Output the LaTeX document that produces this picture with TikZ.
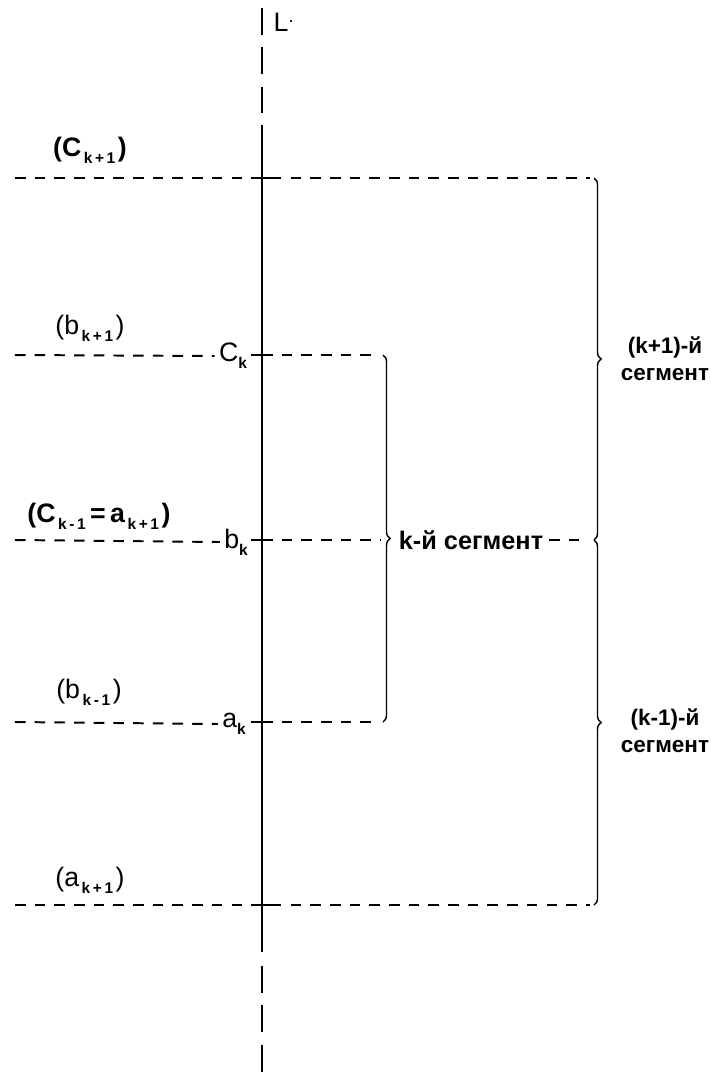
\documentclass[tikz,border=0pt]{standalone}
\usepackage{fontspec}
\setmainfont{Liberation Sans}
\usetikzlibrary{decorations.pathreplacing}

\newcommand{\lowidx}[1]{\raisebox{-0.5ex}{\fontsize{11}{12}\selectfont\bfseries #1}}

\begin{document}
\begin{tikzpicture}[x=0.025cm, y=-0.025cm,
  level/.style={line width=1.4pt, dash pattern=on 7.5pt off 6.5pt},
  axisdash/.style={line width=1.7pt, dash pattern=on 19pt off 9pt},
  seg/.style={decorate, decoration={brace, amplitude=5pt}, line width=1pt},
  lbl/.style={font=\fontsize{19}{21}\selectfont, inner sep=1pt},
  boldlbl/.style={font=\bfseries\fontsize{19}{21}\selectfont, inner sep=1pt},
  segtext/.style={font=\bfseries\fontsize{16}{19}\selectfont, align=center, inner sep=1pt}]

  \useasboundingbox (0,0) rectangle (711,1074);

  % Axis L'
  \coordinate (top) at (262,8);
  \coordinate (topS) at (262,125);
  \coordinate (botS) at (262,952);
  \coordinate (bot) at (262,1074);
  \draw[axisdash] (top) -- ([yshift=5pt]topS);
  \draw[line width=1.7pt] (topS) -- (botS);
  \draw[axisdash] ([yshift=-10pt]botS) -- (bot);
  \node[lbl, anchor=west] (axisname) at (272,22) {L\textsuperscript{.}};

  % Levels on the axis
  \coordinate (ckp) at (262,178);
  \coordinate (ck)  at (262,355);
  \coordinate (bk)  at (262,540);
  \coordinate (ak)  at (262,722);
  \coordinate (akp) at (262,905);

  % Free ends of the dashed levels
  \coordinate (ckpL) at (15,178);  \coordinate (ckpR) at (590,178);
  \coordinate (ckL)  at (15,355);  \coordinate (ckR)  at (380,355);
  \coordinate (bkL)  at (15,540);  \coordinate (bkR)  at (381,540);
  \coordinate (bkRR) at (588,540);
  \coordinate (akL)  at (15,722);  \coordinate (akR)  at (380,722);
  \coordinate (akpL) at (15,905);  \coordinate (akpR) at (590,905);

  % Labels next to the axis
  \node[lbl, inner sep=3pt] (Ck) at (233,356) {C\lowidx{k}};
  \node[lbl, inner sep=3pt] (Bk) at (236,542) {b\lowidx{k}};
  \node[lbl, inner sep=3pt] (Ak) at (234,724) {a\lowidx{k}};

  % Labels on the left
  \node[boldlbl] (lCkp) at (90,150) {(C\lowidx{\,k\,+\,1\,})};
  \node[lbl]     (lBkp) at (90,328) {(b\lowidx{\,k\,+\,1\,})};
  \node[boldlbl] (lCkm) at (99,516) {(C\lowidx{\,k\,-\,1}\,=\,a\lowidx{\,k\,+\,1\,})};
  \node[lbl]     (lBkm) at (89,692) {(b\lowidx{\,k\,-\,1\,})};
  \node[lbl]     (lAkp) at (90,880) {(a\lowidx{\,k\,+\,1\,})};

  % Segment texts
  \node[segtext, font=\bfseries\fontsize{18}{19}\selectfont, anchor=west, inner sep=4pt] (segK) at (393,540) {k-й сегмент};
  \node[segtext] (segKp) at (665,359) {(k+1)-й\\сегмент};
  \node[segtext] (segKm) at (665,731) {(k-1)-й\\сегмент};

  % Dashed levels
  \draw[level] (ckpL) -- (ckpR);
  \draw[level] (ckL) -- (Ck.west);
  \draw[level] (ck) -- (ckR);
  \draw[level] (bkL) -- (Bk.west);
  \draw[level] (bk) -- (bkR);
  \draw[level] (segK.east) -- (bkRR);
  \draw[level] (akL) -- (Ak.west);
  \draw[level] (ak) -- (akR);
  \draw[level] (akpL) -- (akpR);

  % Ticks
  \foreach \n in {ckp,ck,bk,ak,akp}
    \draw[line width=1.4pt] ([xshift=-8pt]\n) -- ([xshift=8pt]\n);

  % Braces
  \draw[seg] (383,355) -- (383,722);
  \draw[seg] (594,178) -- (594,540);
  \draw[seg] (594,540) -- (594,905);

\end{tikzpicture}
\end{document}
